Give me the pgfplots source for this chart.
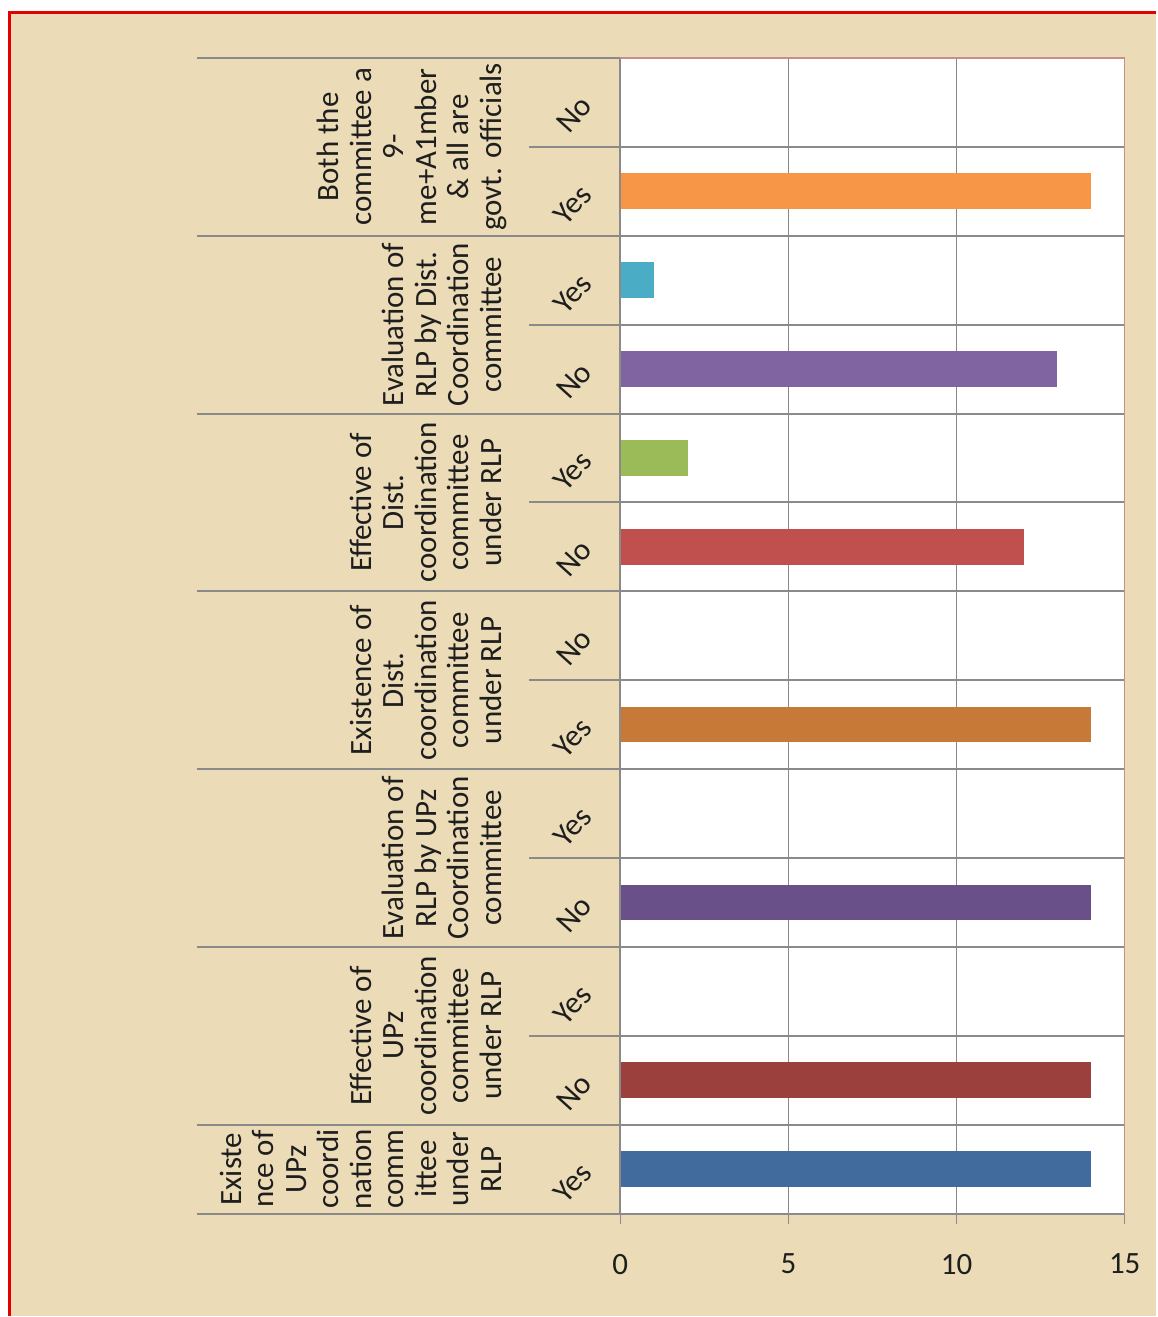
\documentclass[border=0pt]{standalone}
\usepackage{fontspec}
\setmainfont{Carlito}
\usepackage{pgfplots}
\pgfplotsset{compat=1.18}
\definecolor{parch}{HTML}{EBDBB7}
\definecolor{sepgray}{HTML}{8A8A8A}
\definecolor{boxred}{HTML}{CC8C88}
\definecolor{txt}{HTML}{1E1E1E}
\definecolor{c0}{HTML}{416A9D}
\definecolor{c1}{HTML}{9C403E}
\definecolor{c3}{HTML}{6A5088}
\definecolor{c5}{HTML}{C77A37}
\definecolor{c7}{HTML}{C0504D}
\definecolor{c8}{HTML}{9BBB59}
\definecolor{c9}{HTML}{8064A2}
\definecolor{c10}{HTML}{4BACC6}
\definecolor{c11}{HTML}{F79646}
\newcommand\grp{\fontsize{15.5pt}{16.25pt}\selectfont}
\begin{document}
\begin{tikzpicture}
\begin{scope}[x=0.5pt,y=0.5pt]
\fill[white] (0,0) rectangle (1157,1317);
\fill[parch] (9,0) rectangle (1157,1305);
\draw[red!90!black, line width=1.5pt] (9.5,0) -- (9.5,1304) -- (1157,1304);
\end{scope}
\begin{axis}[
  at={(310.5pt,51pt)}, anchor=south west,
  width=252.5pt, height=578.5pt, scale only axis,
  clip=false,
  xbar, bar width=0.4,
  xmin=0, xmax=15, ymin=-0.5, ymax=12.5,
  axis background/.style={fill=white},
  axis line style={draw=none},
  xtick={0,5,10,15},
  ytick={0,...,12},
  yticklabels={Yes,No,Yes,No,Yes,Yes,No,No,Yes,No,Yes,Yes,No},
  ytick style={draw=none},
  xtick style={draw=sepgray, line width=0.75pt},
  tick align=outside,
  major tick length=5pt,
  xtick pos=left, ytick pos=left,
  xmajorgrids,
  major grid style={draw=sepgray, line width=0.75pt},
  /pgf/number format/assume math mode=true,
  xticklabel style={font=\grp, text=txt, anchor=north, inner sep=0pt, yshift=-15pt},
  yticklabel style={font=\grp, text=txt, inner sep=0pt, xshift=-12pt, yshift=1pt, rotate=48, anchor=east},
]
\addplot[fill=c0, draw=none, bar shift=0] coordinates {(14,0)};
\addplot[fill=c1, draw=none, bar shift=0] coordinates {(14,1)};
\addplot[fill=c3, draw=none, bar shift=0] coordinates {(14,3)};
\addplot[fill=c5, draw=none, bar shift=0] coordinates {(14,5)};
\addplot[fill=c7, draw=none, bar shift=0] coordinates {(12,7)};
\addplot[fill=c8, draw=none, bar shift=0] coordinates {(2,8)};
\addplot[fill=c9, draw=none, bar shift=0] coordinates {(13,9)};
\addplot[fill=c10, draw=none, bar shift=0] coordinates {(1,10)};
\addplot[fill=c11, draw=none, bar shift=0] coordinates {(14,11)};
% row separators
\draw[sepgray, line width=1pt] (axis cs:-2.703,1.5) -- (axis cs:15,1.5);
\draw[sepgray, line width=1pt] (axis cs:-2.703,3.5) -- (axis cs:15,3.5);
\draw[sepgray, line width=1pt] (axis cs:-2.703,5.5) -- (axis cs:15,5.5);
\draw[sepgray, line width=1pt] (axis cs:-2.703,7.5) -- (axis cs:15,7.5);
\draw[sepgray, line width=1pt] (axis cs:-2.703,9.5) -- (axis cs:15,9.5);
\draw[sepgray, line width=1pt] (axis cs:-2.703,11.5) -- (axis cs:15,11.5);
% group separators
\draw[sepgray, line width=1pt] (axis cs:-12.594,0.5) -- (axis cs:15,0.5);
\draw[sepgray, line width=1pt] (axis cs:-12.594,2.5) -- (axis cs:15,2.5);
\draw[sepgray, line width=1pt] (axis cs:-12.594,4.5) -- (axis cs:15,4.5);
\draw[sepgray, line width=1pt] (axis cs:-12.594,6.5) -- (axis cs:15,6.5);
\draw[sepgray, line width=1pt] (axis cs:-12.594,8.5) -- (axis cs:15,8.5);
\draw[sepgray, line width=1pt] (axis cs:-12.594,10.5) -- (axis cs:15,10.5);
\draw[sepgray, line width=1pt] (axis cs:-12.594,-0.5) -- (axis cs:15,-0.5);
\draw[sepgray, line width=1pt] (axis cs:-12.594,12.5) -- (axis cs:0,12.5);
\draw[sepgray, line width=1pt] (axis cs:0,-0.5) -- (axis cs:0,12.5);
\draw[boxred, line width=0.6pt] (axis cs:0,12.5) -- (axis cs:15,12.5) -- (axis cs:15,-0.5);
% group labels
\begin{scope}[every node/.style={rotate=90, anchor=south, align=center, inner sep=0pt, font=\grp, text=txt}]
\node at (axis cs:-3.245,0) {Existe\\nce of\\UPz\\coordi\\nation\\comm\\ittee\\under\\RLP\strut};
\node at (axis cs:-3.245,1.5) {Effective of\\UPz\\coordination\\committee\\under RLP\strut};
\node at (axis cs:-3.245,3.5) {Evaluation of\\RLP by UPz\\Coordination\\committee\strut};
\node at (axis cs:-3.245,5.5) {Existence of\\Dist.\\coordination\\committee\\under RLP\strut};
\node at (axis cs:-3.245,7.5) {Effective of\\Dist.\\coordination\\committee\\under RLP\strut};
\node at (axis cs:-3.245,9.5) {Evaluation of\\RLP by Dist.\\Coordination\\committee\strut};
\node at (axis cs:-3.245,11.5) {Both the\\committee a\\9-\\me+A1mber\\\& all are\\govt. officials\strut};
\end{scope}
\end{axis}
\end{tikzpicture}
\end{document}
